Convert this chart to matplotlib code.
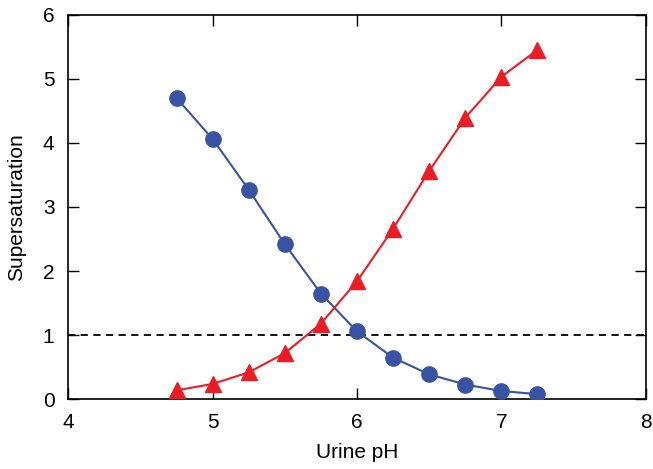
import matplotlib
matplotlib.use("Agg")
import matplotlib.pyplot as plt

plt.rcParams["font.family"] = ["Liberation Sans", "DejaVu Sans"]

ph = [4.75, 5.0, 5.25, 5.5, 5.75, 6.0, 6.25, 6.5, 6.75, 7.0, 7.25]
blue_ss = [4.70, 4.06, 3.27, 2.42, 1.65, 1.06, 0.65, 0.39, 0.23, 0.13, 0.08]
red_ss = [0.14, 0.24, 0.42, 0.72, 1.18, 1.84, 2.66, 3.56, 4.39, 5.03, 5.45]
x_ticks = [4, 5, 6, 7, 8]
y_ticks = [0, 1, 2, 3, 4, 5, 6]

fig = plt.figure(figsize=(6.53, 4.69), dpi=100)
ax = fig.add_axes([0.1046, 0.1486, 0.8841, 0.8201])

ax.axhline(1, color="black", lw=1.3, ls=(0, (4, 3)), zorder=1)
ax.plot(ph, blue_ss, color="#3953a4", lw=1.5, marker="o", ms=11, zorder=3)
ax.plot(ph, red_ss, color="#ed1c24", lw=1.5, marker="^", ms=11, zorder=3)

ax.set_xlim(4, 8)
ax.set_ylim(0, 6)
ax.set_xticks(x_ticks)
ax.set_yticks(y_ticks)
ax.tick_params(direction="in", length=8, width=1, top=True, right=True,
               labelsize=15, pad=10)
for s in ax.spines.values():
    s.set_linewidth(1.2)
ax.set_xlabel("Urine pH", fontsize=15, labelpad=8)
ax.set_ylabel("Supersaturation", fontsize=15, labelpad=12)

fig.savefig("out.png", dpi=100)
